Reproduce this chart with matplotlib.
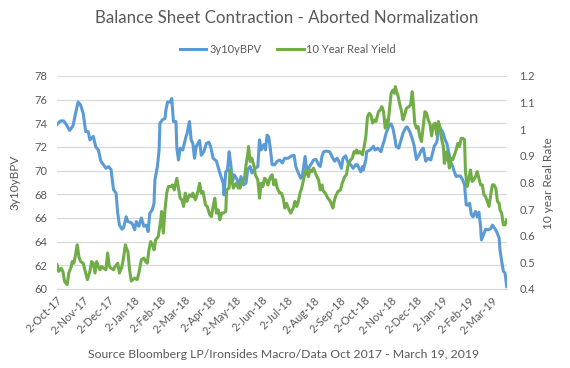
import matplotlib
matplotlib.use("Agg")
import matplotlib.pyplot as plt
import pandas as pd

plt.rcParams["font.family"] = ["Lato", "DejaVu Sans"]

TITLE = "Balance Sheet Contraction - Aborted Normalization"
SOURCE = "Source Bloomberg LP/Ironsides Macro/Data Oct 2017 - March 19, 2019"
BPV_NAME = "3y10yBPV"
REAL_NAME = "10 Year Real Yield"

# 3y10yBPV (left axis)
bpv_dates = [
    "2017-10-02", "2017-10-06", "2017-10-10", "2017-10-13", "2017-10-17", "2017-10-21", "2017-10-24",
    "2017-10-27", "2017-10-30", "2017-11-02", "2017-11-05", "2017-11-08", "2017-11-10", "2017-11-14",
    "2017-11-17", "2017-11-20", "2017-11-23", "2017-11-26", "2017-11-29", "2017-12-02", "2017-12-05",
    "2017-12-08", "2017-12-11", "2017-12-13", "2017-12-15", "2017-12-18", "2017-12-20", "2017-12-23",
    "2017-12-25", "2017-12-29", "2017-12-31", "2018-01-02", "2018-01-04", "2018-01-07", "2018-01-10",
    "2018-01-13", "2018-01-16", "2018-01-18", "2018-01-20", "2018-01-23", "2018-01-25", "2018-01-26",
    "2018-01-29", "2018-01-31", "2018-02-01", "2018-02-04", "2018-02-07", "2018-02-08", "2018-02-10",
    "2018-02-13", "2018-02-15", "2018-02-17", "2018-02-20", "2018-02-21", "2018-02-23", "2018-02-25",
    "2018-02-28", "2018-03-01", "2018-03-04", "2018-03-05", "2018-03-08", "2018-03-10", "2018-03-12",
    "2018-03-14", "2018-03-16", "2018-03-20", "2018-03-22", "2018-03-25", "2018-03-28", "2018-03-31",
    "2018-04-02", "2018-04-05", "2018-04-09", "2018-04-13", "2018-04-17", "2018-04-18", "2018-04-20",
    "2018-04-22", "2018-04-24", "2018-04-26", "2018-04-28", "2018-04-30", "2018-05-03", "2018-05-06",
    "2018-05-08", "2018-05-11", "2018-05-14", "2018-05-16", "2018-05-19", "2018-05-21", "2018-05-25",
    "2018-05-28", "2018-05-30", "2018-06-01", "2018-06-04", "2018-06-06", "2018-06-08", "2018-06-10",
    "2018-06-12", "2018-06-14", "2018-06-17", "2018-06-20", "2018-06-23", "2018-06-26", "2018-06-29",
    "2018-07-03", "2018-07-07", "2018-07-10", "2018-07-12", "2018-07-15", "2018-07-18", "2018-07-20",
    "2018-07-23", "2018-07-25", "2018-07-27", "2018-07-31", "2018-08-02", "2018-08-05", "2018-08-08",
    "2018-08-10", "2018-08-12", "2018-08-14", "2018-08-17", "2018-08-21", "2018-08-25", "2018-08-27",
    "2018-08-30", "2018-09-01", "2018-09-04", "2018-09-06", "2018-09-09", "2018-09-12", "2018-09-15",
    "2018-09-18", "2018-09-21", "2018-09-23", "2018-09-26", "2018-09-27", "2018-09-29", "2018-09-30",
    "2018-10-03", "2018-10-04", "2018-10-08", "2018-10-12", "2018-10-14", "2018-10-17", "2018-10-21",
    "2018-10-22", "2018-10-25", "2018-10-27", "2018-10-30", "2018-11-02", "2018-11-04", "2018-11-06",
    "2018-11-08", "2018-11-11", "2018-11-13", "2018-11-16", "2018-11-19", "2018-11-21", "2018-11-24",
    "2018-11-27", "2018-11-29", "2018-12-02", "2018-12-05", "2018-12-08", "2018-12-10", "2018-12-13",
    "2018-12-16", "2018-12-19", "2018-12-21", "2018-12-23", "2018-12-26", "2018-12-28", "2018-12-30",
    "2019-01-02", "2019-01-05", "2019-01-07", "2019-01-10", "2019-01-11", "2019-01-14", "2019-01-15",
    "2019-01-18", "2019-01-20", "2019-01-23", "2019-01-26", "2019-01-28", "2019-01-30", "2019-02-01",
    "2019-02-03", "2019-02-05", "2019-02-07", "2019-02-10", "2019-02-12", "2019-02-14", "2019-02-16",
    "2019-02-17", "2019-02-20", "2019-02-22", "2019-02-25", "2019-02-28", "2019-03-02", "2019-03-05",
    "2019-03-07", "2019-03-10", "2019-03-11", "2019-03-13", "2019-03-15", "2019-03-17", "2019-03-19",
]
bpv_values = [
    73.9, 74.2, 74.2, 73.9, 73.4, 73.8, 74.85,
    75.8, 75.55, 74.85, 73.3, 73.3, 72.6, 72.9,
    72.0, 71.75, 70.8, 70.5, 70.2, 70.35, 70.1,
    68.4, 68.1, 66.4, 65.4, 65.05, 65.2, 66.1,
    65.7, 65.6, 65.4, 65.0, 65.7, 65.3, 66.0,
    65.3, 65.4, 64.85, 66.4, 66.7, 67.25, 69.2,
    70.35, 71.75, 74.0, 74.3, 74.4, 75.1, 75.8,
    75.8, 76.1, 74.15, 74.15, 71.9, 70.9, 71.9,
    71.75, 72.05, 72.9, 73.1, 74.15, 72.6, 72.3,
    71.05, 72.05, 72.55, 71.3, 71.6, 72.3, 72.4,
    72.05, 71.05, 70.8, 69.8, 68.95, 67.95, 69.9,
    70.05, 71.6, 70.5, 69.1, 69.65, 69.3, 68.8,
    69.5, 68.8, 68.95, 70.1, 70.35, 69.8, 70.2,
    70.35, 72.6, 71.75, 72.2, 71.75, 73.0, 72.85,
    71.75, 70.5, 70.5, 70.8, 70.9, 70.65, 71.05,
    71.05, 71.25, 71.3, 70.35, 69.8, 69.35, 69.65,
    71.2, 70.05, 70.2, 70.65, 70.9, 70.95, 70.5,
    70.35, 71.2, 71.6, 71.65, 71.6, 71.05, 70.8,
    71.05, 70.8, 70.2, 71.05, 71.25, 70.65, 70.5,
    70.2, 70.5, 70.5, 70.05, 69.9, 70.35, 70.05,
    70.9, 71.6, 71.75, 72.05, 71.75, 71.9, 71.6,
    71.9, 72.6, 73.15, 73.7, 73.95, 73.6, 72.9,
    72.05, 71.9, 72.4, 73.15, 73.6, 73.7, 73.3,
    72.7, 72.2, 70.95, 71.3, 71.75, 71.9, 70.8,
    71.05, 70.9, 71.45, 72.05, 72.4, 73.3, 73.6,
    73.3, 72.6, 72.3, 71.3, 70.8, 70.35, 70.1,
    69.5, 69.55, 69.55, 69.2, 68.8, 67.1, 67.1,
    67.25, 66.3, 66.1, 66.55, 66.1, 66.5, 65.3,
    64.15, 64.7, 65.05, 65.0, 65.1, 65.4, 65.1,
    64.85, 64.3, 63.3, 62.35, 61.5, 61.35, 60.2,
]

# 10 Year Real Yield (right axis)
real_dates = [
    "2017-10-02", "2017-10-04", "2017-10-07", "2017-10-09", "2017-10-11", "2017-10-14", "2017-10-16",
    "2017-10-19", "2017-10-20", "2017-10-22", "2017-10-24", "2017-10-26", "2017-10-28", "2017-10-30",
    "2017-11-02", "2017-11-04", "2017-11-07", "2017-11-10", "2017-11-12", "2017-11-14", "2017-11-16",
    "2017-11-18", "2017-11-20", "2017-11-22", "2017-11-24", "2017-11-26", "2017-11-29", "2017-12-01",
    "2017-12-03", "2017-12-05", "2017-12-08", "2017-12-10", "2017-12-13", "2017-12-15", "2017-12-18",
    "2017-12-20", "2017-12-22", "2017-12-24", "2017-12-25", "2017-12-27", "2017-12-29", "2018-01-02",
    "2018-01-05", "2018-01-07", "2018-01-10", "2018-01-13", "2018-01-15", "2018-01-17", "2018-01-19",
    "2018-01-21", "2018-01-23", "2018-01-25", "2018-01-27", "2018-01-30", "2018-02-02", "2018-02-03",
    "2018-02-05", "2018-02-07", "2018-02-09", "2018-02-11", "2018-02-14", "2018-02-16", "2018-02-18",
    "2018-02-21", "2018-02-23", "2018-02-25", "2018-02-27", "2018-03-01", "2018-03-03", "2018-03-05",
    "2018-03-08", "2018-03-11", "2018-03-12", "2018-03-15", "2018-03-18", "2018-03-20", "2018-03-22",
    "2018-03-24", "2018-03-27", "2018-03-29", "2018-04-01", "2018-04-03", "2018-04-05", "2018-04-07",
    "2018-04-09", "2018-04-11", "2018-04-13", "2018-04-15", "2018-04-17", "2018-04-20", "2018-04-21",
    "2018-04-24", "2018-04-25", "2018-04-27", "2018-04-29", "2018-05-02", "2018-05-05", "2018-05-07",
    "2018-05-09", "2018-05-12", "2018-05-14", "2018-05-16", "2018-05-17", "2018-05-19", "2018-05-21",
    "2018-05-24", "2018-05-25", "2018-05-28", "2018-05-30", "2018-06-01", "2018-06-03", "2018-06-05",
    "2018-06-07", "2018-06-09", "2018-06-12", "2018-06-14", "2018-06-16", "2018-06-18", "2018-06-20",
    "2018-06-23", "2018-06-25", "2018-06-27", "2018-06-29", "2018-07-01", "2018-07-04", "2018-07-06",
    "2018-07-09", "2018-07-11", "2018-07-13", "2018-07-15", "2018-07-17", "2018-07-19", "2018-07-22",
    "2018-07-24", "2018-07-27", "2018-07-29", "2018-07-31", "2018-08-02", "2018-08-05", "2018-08-08",
    "2018-08-10", "2018-08-12", "2018-08-13", "2018-08-17", "2018-08-19", "2018-08-22", "2018-08-25",
    "2018-08-26", "2018-08-28", "2018-08-31", "2018-09-03", "2018-09-05", "2018-09-08", "2018-09-10",
    "2018-09-12", "2018-09-15", "2018-09-17", "2018-09-19", "2018-09-21", "2018-09-22", "2018-09-24",
    "2018-09-26", "2018-09-29", "2018-10-01", "2018-10-03", "2018-10-05", "2018-10-07", "2018-10-09",
    "2018-10-11", "2018-10-13", "2018-10-15", "2018-10-18", "2018-10-20", "2018-10-22", "2018-10-24",
    "2018-10-26", "2018-10-28", "2018-10-29", "2018-10-31", "2018-11-02", "2018-11-04", "2018-11-06",
    "2018-11-07", "2018-11-09", "2018-11-10", "2018-11-12", "2018-11-14", "2018-11-16", "2018-11-18",
    "2018-11-20", "2018-11-23", "2018-11-25", "2018-11-27", "2018-11-28", "2018-11-30", "2018-12-02",
    "2018-12-04", "2018-12-06", "2018-12-08", "2018-12-10", "2018-12-12", "2018-12-14", "2018-12-16",
    "2018-12-18", "2018-12-20", "2018-12-22", "2018-12-24", "2018-12-26", "2018-12-28", "2018-12-30",
    "2019-01-01", "2019-01-03", "2019-01-04", "2019-01-06", "2019-01-07", "2019-01-09", "2019-01-10",
    "2019-01-12", "2019-01-14", "2019-01-16", "2019-01-18", "2019-01-20", "2019-01-22", "2019-01-24",
    "2019-01-26", "2019-01-28", "2019-01-29", "2019-01-31", "2019-02-02", "2019-02-04", "2019-02-06",
    "2019-02-08", "2019-02-10", "2019-02-12", "2019-02-14", "2019-02-16", "2019-02-18", "2019-02-20",
    "2019-02-22", "2019-02-24", "2019-02-26", "2019-02-28", "2019-03-02", "2019-03-04", "2019-03-06",
    "2019-03-08", "2019-03-10", "2019-03-11", "2019-03-13", "2019-03-15", "2019-03-17", "2019-03-19",
]
real_values = [
    0.491, 0.466, 0.478, 0.466, 0.428, 0.416, 0.46,
    0.485, 0.503, 0.497, 0.529, 0.566, 0.52, 0.503,
    0.497, 0.472, 0.435, 0.466, 0.503, 0.497, 0.46,
    0.503, 0.485, 0.472, 0.485, 0.478, 0.472, 0.535,
    0.485, 0.478, 0.472, 0.485, 0.497, 0.46, 0.485,
    0.52, 0.566, 0.547, 0.541, 0.472, 0.43, 0.441,
    0.435, 0.46, 0.51, 0.516, 0.503, 0.497, 0.547,
    0.578, 0.566, 0.547, 0.585, 0.597, 0.66, 0.691,
    0.61, 0.697, 0.76, 0.785, 0.785, 0.791, 0.772,
    0.816, 0.779, 0.741, 0.735, 0.71, 0.76, 0.729,
    0.754, 0.747, 0.76, 0.735, 0.766, 0.797, 0.76,
    0.766, 0.716, 0.71, 0.679, 0.672, 0.71, 0.741,
    0.685, 0.697, 0.66, 0.685, 0.685, 0.691, 0.772,
    0.779, 0.847, 0.81, 0.779, 0.797, 0.779, 0.779,
    0.804, 0.81, 0.866, 0.904, 0.935, 0.879, 0.891,
    0.854, 0.829, 0.81, 0.741, 0.797, 0.785, 0.816,
    0.81, 0.791, 0.822, 0.829, 0.791, 0.81, 0.779,
    0.76, 0.76, 0.741, 0.704, 0.722, 0.697, 0.685,
    0.704, 0.729, 0.71, 0.729, 0.76, 0.779, 0.822,
    0.847, 0.822, 0.847, 0.841, 0.854, 0.829, 0.81,
    0.772, 0.791, 0.772, 0.754, 0.741, 0.729, 0.704,
    0.722, 0.747, 0.766, 0.772, 0.797, 0.822, 0.829,
    0.866, 0.885, 0.891, 0.916, 0.91, 0.922, 0.91,
    0.916, 0.904, 0.935, 0.972, 1.047, 1.06, 1.053,
    1.023, 1.035, 1.029, 1.066, 1.072, 1.085, 1.066,
    1.004, 1.035, 1.01, 1.072, 1.135, 1.147, 1.135,
    1.16, 1.135, 1.128, 1.097, 1.072, 1.035, 1.053,
    1.078, 1.085, 1.091, 1.141, 1.11, 1.023, 1.004,
    1.01, 0.972, 0.954, 1.01, 1.066, 1.06, 1.035,
    1.02, 0.975, 1.016, 1.023, 0.979, 1.029, 1.004,
    0.96, 0.935, 0.872, 0.891, 0.916, 0.879, 0.854,
    0.891, 0.885, 0.904, 0.922, 0.947, 0.935, 0.966,
    0.966, 0.96, 0.847, 0.785, 0.81, 0.847, 0.804,
    0.81, 0.822, 0.841, 0.816, 0.791, 0.791, 0.754,
    0.747, 0.729, 0.71, 0.754, 0.791, 0.791, 0.779,
    0.729, 0.722, 0.697, 0.685, 0.641, 0.641, 0.66,
]

BLUE = "#5B9BD5"
GREEN = "#70AD47"
TEXT = "#595959"
GRID = "#D9D9D9"

bpv_x = pd.to_datetime(bpv_dates)
real_x = pd.to_datetime(real_dates)
month_ticks = pd.date_range("2017-10-01", "2019-03-01", freq="MS") + pd.Timedelta(days=1)
tick_labels = [f"{d.day}-{d.strftime('%b-%y')}" for d in month_ticks]

fig = plt.figure(figsize=(5.7, 3.68), dpi=100)
ax = fig.add_axes([0.1, 0.2147, 0.789, 0.5788])
ax2 = ax.twinx()

ax.plot(bpv_x, bpv_values, color=BLUE, lw=2.2, solid_joinstyle="round")
ax2.plot(real_x, real_values, color=GREEN, lw=2.2, solid_joinstyle="round")

ax.set_xlim(pd.Timestamp("2017-10-02"), pd.Timestamp("2019-03-19"))
ax.set_ylim(60, 78)
ax.set_yticks(range(60, 79, 2))
ax2.set_ylim(0.4, 1.2)
r_ticks = [0.4, 0.5, 0.6, 0.7, 0.8, 0.9, 1.0, 1.1, 1.2]
ax2.set_yticks(r_ticks)
ax2.set_yticklabels([f"{t:g}" for t in r_ticks])

ax.set_xticks(month_ticks)
ax.set_xticklabels(tick_labels, rotation=45, ha="right", rotation_mode="anchor")

ax.grid(axis="y", color=GRID, lw=0.9)
ax.set_axisbelow(True)
for a in (ax, ax2):
    for s in ("top", "left", "right"):
        a.spines[s].set_visible(False)
    a.spines["bottom"].set_color(GRID)
    a.tick_params(length=0, colors=TEXT, labelsize=8)
ax.tick_params(axis="y", pad=7)
ax.tick_params(axis="x", pad=4)
ax2.tick_params(axis="y", pad=9)

fig.text(0.026, 0.505, "3y10yBPV", rotation=90, ha="center", va="center",
         color=TEXT, fontsize=8.5)
fig.text(0.962, 0.503, "10 year Real Rate", rotation=90, ha="center", va="center",
         color=TEXT, fontsize=8.5)

fig.text(0.5035, 0.952, TITLE, ha="center", va="center", color=TEXT, fontsize=12.2)

handles = [plt.Line2D([], [], color=BLUE, lw=2.2), plt.Line2D([], [], color=GREEN, lw=2.2)]
fig.legend(handles, [BPV_NAME, REAL_NAME], loc="center", bbox_to_anchor=(0.505, 0.865),
           ncol=2, frameon=False, fontsize=8, handlelength=2.4, handletextpad=0.25,
           columnspacing=1.4, labelcolor=TEXT)

fig.text(0.497, 0.038, SOURCE, ha="center", va="center", color=TEXT, fontsize=8.8)

fig.savefig("out.png", dpi=100)
